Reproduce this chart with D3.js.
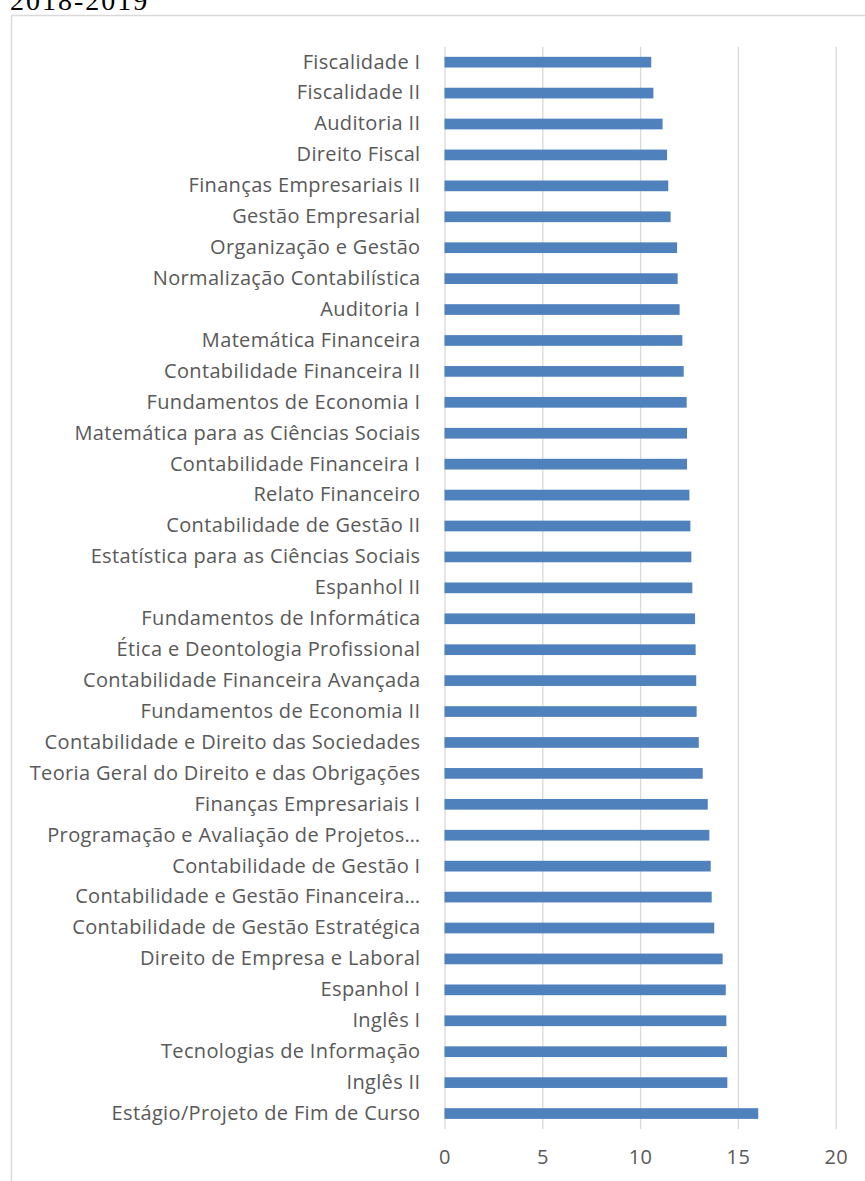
<!DOCTYPE html>
<html>
<head>
<meta charset="utf-8">
<script src="https://cdn.jsdelivr.net/npm/d3@7"></script>
<style>
  body { margin: 0; background: #fff; }
  svg { display: block; }
  .lbl text { font-family: "Open Sans", "Noto Sans", sans-serif; fill: #595959; }
</style>
</head>
<body>
<div id="chart"></div>
<script>
const W = 865, H = 1181;

// disciplinas (de cima para baixo)
var courses = [
    "Fiscalidade I", "Fiscalidade II", "Auditoria II", "Direito Fiscal",
    "Finanças Empresariais II", "Gestão Empresarial", "Organização e Gestão",
    "Normalização Contabilística", "Auditoria I", "Matemática Financeira",
    "Contabilidade Financeira II", "Fundamentos de Economia I",
    "Matemática para as Ciências Sociais", "Contabilidade Financeira I",
    "Relato Financeiro", "Contabilidade de Gestão II",
    "Estatística para as Ciências Sociais", "Espanhol II",
    "Fundamentos de Informática", "Ética e Deontologia Profissional",
    "Contabilidade Financeira Avançada", "Fundamentos de Economia II",
    "Contabilidade e Direito das Sociedades",
    "Teoria Geral do Direito e das Obrigações", "Finanças Empresariais I",
    "Programação e Avaliação de Projetos…", "Contabilidade de Gestão I",
    "Contabilidade e Gestão Financeira…", "Contabilidade de Gestão Estratégica",
    "Direito de Empresa e Laboral", "Espanhol I", "Inglês I",
    "Tecnologias de Informação", "Inglês II", "Estágio/Projeto de Fim de Curso"
];
var grades = [
    10.57, 10.68, 11.15, 11.38, 11.44, 11.56, 11.89, 11.92, 12.02, 12.16,
    12.23, 12.38, 12.40, 12.40, 12.52, 12.57, 12.62, 12.67, 12.81, 12.84,
    12.87, 12.89, 13.00, 13.20, 13.46, 13.54, 13.61, 13.66, 13.79, 14.22,
    14.38, 14.41, 14.44, 14.46, 16.04
];
var xTicks = [0, 5, 10, 15, 20];
var title = "2018-2019";

var svg = d3.select("#chart").append("svg")
    .attr("width", W)
    .attr("height", H);

// titulo cortado no topo
svg.append("text")
    .attr("x", 10)
    .attr("y", 10)
    .attr("font-family", "'Liberation Serif', 'Times New Roman', serif")
    .attr("font-size", 28)
    .attr("letter-spacing", 2)
    .attr("fill", "#000")
    .text(title);

// moldura da area do grafico
svg.append("rect")
    .attr("x", 11.5)
    .attr("y", 15.5)
    .attr("width", W + 20)
    .attr("height", H + 20)
    .attr("fill", "none")
    .attr("stroke", "#d9d9d9")
    .attr("stroke-width", 1.5);

var plotTop = 46.7, plotBottom = 1129, plotLeft = 444.5, plotRight = 835.7;

var x = d3.scaleLinear().domain([0, 20]).range([plotLeft, plotRight]);
var y = d3.scaleBand().domain(courses).range([plotTop, plotBottom])
    .paddingInner(0.654).paddingOuter(0.327);

// grelha vertical
svg.append("g")
    .attr("transform", "translate(0," + plotBottom + ")")
    .call(d3.axisBottom(x).tickValues(xTicks).tickSize(-(plotBottom - plotTop)).tickFormat(""))
    .call(g => g.select(".domain").remove())
    .call(g => g.selectAll("line").attr("stroke", "#d9d9d9").attr("stroke-width", 1.3));

svg.append("g").selectAll("rect").data(grades)
    .enter().append("rect")
    .attr("x", x(0))
    .attr("y", (d, i) => y(courses[i]))
    .attr("width", (d) => x(d) - x(0))
    .attr("height", y.bandwidth())
    .attr("fill", "#4f81bd");

// etiquetas das disciplinas
svg.append("g")
    .attr("class", "lbl")
    .attr("transform", "translate(" + plotLeft + ",0)")
    .call(d3.axisLeft(y).tickSize(0).tickPadding(24))
    .call(g => g.select(".domain").remove())
    .selectAll("text")
        .attr("font-size", 20)
        .attr("letter-spacing", 0.35);

// valores do eixo x
svg.append("g")
    .attr("class", "lbl")
    .attr("transform", "translate(0," + plotBottom + ")")
    .call(d3.axisBottom(x).tickValues(xTicks).tickSize(0).tickPadding(21))
    .call(g => g.select(".domain").remove())
    .selectAll("text")
        .attr("font-size", 20)
        .attr("letter-spacing", 0.35);
</script>
</body>
</html>
